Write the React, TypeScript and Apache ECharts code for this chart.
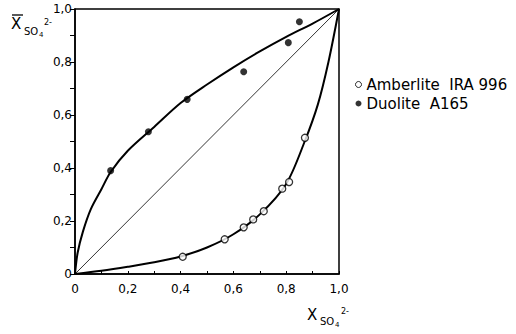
import React, { useEffect, useRef } from "react";
import * as echarts from "echarts";

// Amberlite IRA 996 measured points (open circles)
const amberX = [0.408, 0.567, 0.639, 0.675, 0.715, 0.785, 0.811, 0.871];
const amberY = [0.065, 0.131, 0.176, 0.206, 0.237, 0.322, 0.347, 0.514];
// Duolite A165 measured points (filled circles)
const duoX = [0.135, 0.278, 0.425, 0.639, 0.808, 0.85];
const duoY = [0.39, 0.537, 0.659, 0.763, 0.873, 0.952];
// fitted curves
const amberCurveX = [0, 0.1, 0.2, 0.3, 0.4, 0.5, 0.6, 0.7, 0.8, 0.87, 0.92, 0.96, 1.0];
const amberCurveY = [0, 0.012, 0.027, 0.044, 0.066, 0.1, 0.15, 0.225, 0.34, 0.5, 0.64, 0.8, 1.0];
const duoCurveX = [0, 0.01, 0.03, 0.06, 0.1, 0.135, 0.2, 0.3, 0.4, 0.5, 0.6, 0.7, 0.8, 0.9, 1.0];
const duoCurveY = [0, 0.08, 0.16, 0.245, 0.32, 0.385, 0.465, 0.555, 0.645, 0.715, 0.78, 0.84, 0.895, 0.945, 1.0];
const diagX = [0, 1];
const diagY = [0, 1];
const legendNames = ["Amberlite  IRA 996", "Duolite  A165"];

const zip = (xs: number[], ys: number[]) => xs.map((x, i) => [x, ys[i]]);

const FONT = "DejaVu Sans";

const fmt = (v: number) => {
  const k = Math.round(v * 10);
  if (k % 2 !== 0) return "";
  if (k === 0) return "0";
  return (k / 10).toFixed(1).replace(".", ",");
};

export default function App() {
  const ref = useRef<HTMLDivElement>(null);
  useEffect(() => {
    if (!ref.current) return;
    const chart = echarts.init(ref.current, undefined, { renderer: "svg" });
    const axisCommon = {
      type: "value" as const,
      min: 0,
      max: 1,
      interval: 0.1,
      splitLine: { show: false },
      axisLine: { show: true, lineStyle: { color: "#000", width: 1.5 } },
      axisLabel: {
        formatter: fmt,
        color: "#000",
        fontFamily: FONT,
        fontSize: 12,
        showMinLabel: true,
        showMaxLabel: true,
      },
    };
    chart.setOption({
      animation: false,
      backgroundColor: "#fff",
      grid: {
        left: 75,
        right: 177,
        top: 9,
        bottom: 60,
        show: true,
        borderColor: "#000",
        borderWidth: 1.5,
      },
      xAxis: {
        ...axisCommon,
        axisTick: { show: true, inside: true, length: 3, lineStyle: { color: "#000" } },
        axisLabel: { ...axisCommon.axisLabel, margin: 9 },
      },
      yAxis: {
        ...axisCommon,
        axisTick: { show: true, inside: false, length: 5, lineStyle: { color: "#000" } },
        axisLabel: { ...axisCommon.axisLabel, margin: 3 },
      },
      legend: {
        data: [
          { name: legendNames[0], itemStyle: { color: "#fff", borderColor: "#000", borderWidth: 1 } },
          { name: legendNames[1] },
        ],
        orient: "vertical",
        left: 350,
        top: 72,
        itemWidth: 6,
        itemHeight: 6,
        itemGap: 4,
        textStyle: { color: "#000", fontFamily: FONT, fontSize: 15 },
      },
      series: [
        {
          type: "line",
          data: zip(diagX, diagY),
          symbol: "none",
          lineStyle: { color: "#000", width: 0.8 },
          silent: true,
        },
        {
          type: "line",
          data: zip(amberCurveX, amberCurveY),
          symbol: "none",
          smooth: 0.3,
          lineStyle: { color: "#000", width: 2 },
          silent: true,
        },
        {
          type: "line",
          data: zip(duoCurveX, duoCurveY),
          symbol: "none",
          smooth: 0.3,
          lineStyle: { color: "#000", width: 2 },
          silent: true,
        },
        {
          name: legendNames[0],
          type: "scatter",
          data: zip(amberX, amberY),
          symbol: "circle",
          symbolSize: 7,
          itemStyle: { color: "#fff", borderColor: "#000", borderWidth: 1.3 },
          z: 5,
        },
        {
          name: legendNames[1],
          type: "scatter",
          data: zip(duoX, duoY),
          symbol: "circle",
          symbolSize: 7,
          itemStyle: { color: "#000" },
          z: 5,
        },
      ],
      graphic: [
        // y-axis title: X̄ SO4 2-
        { type: "line", shape: { x1: 12, y1: 15, x2: 23, y2: 15 }, style: { stroke: "#000", lineWidth: 1.3 } },
        { type: "text", x: 11, y: 16, style: { text: "X", fontFamily: FONT, fontSize: 15, fill: "#000" } },
        { type: "text", x: 24, y: 26, style: { text: "SO", fontFamily: FONT, fontSize: 10, fill: "#000" } },
        { type: "text", x: 39, y: 31, style: { text: "4", fontFamily: FONT, fontSize: 7, fill: "#000" } },
        { type: "text", x: 44, y: 18, style: { text: "2-", fontFamily: FONT, fontSize: 8, fill: "#000" } },
        // x-axis title
        { type: "text", x: 307, y: 307, style: { text: "X", fontFamily: FONT, fontSize: 15, fill: "#000" } },
        { type: "text", x: 320, y: 316, style: { text: "SO", fontFamily: FONT, fontSize: 10, fill: "#000" } },
        { type: "text", x: 335, y: 321, style: { text: "4", fontFamily: FONT, fontSize: 7, fill: "#000" } },
        { type: "text", x: 341, y: 307, style: { text: "2-", fontFamily: FONT, fontSize: 8, fill: "#000" } },
      ],
    });
    return () => chart.dispose();
  }, []);
  return (
    <div
      ref={ref}
      style={{ position: "fixed", left: 0, top: 0, width: 516, height: 334, background: "#fff" }}
    />
  );
}
